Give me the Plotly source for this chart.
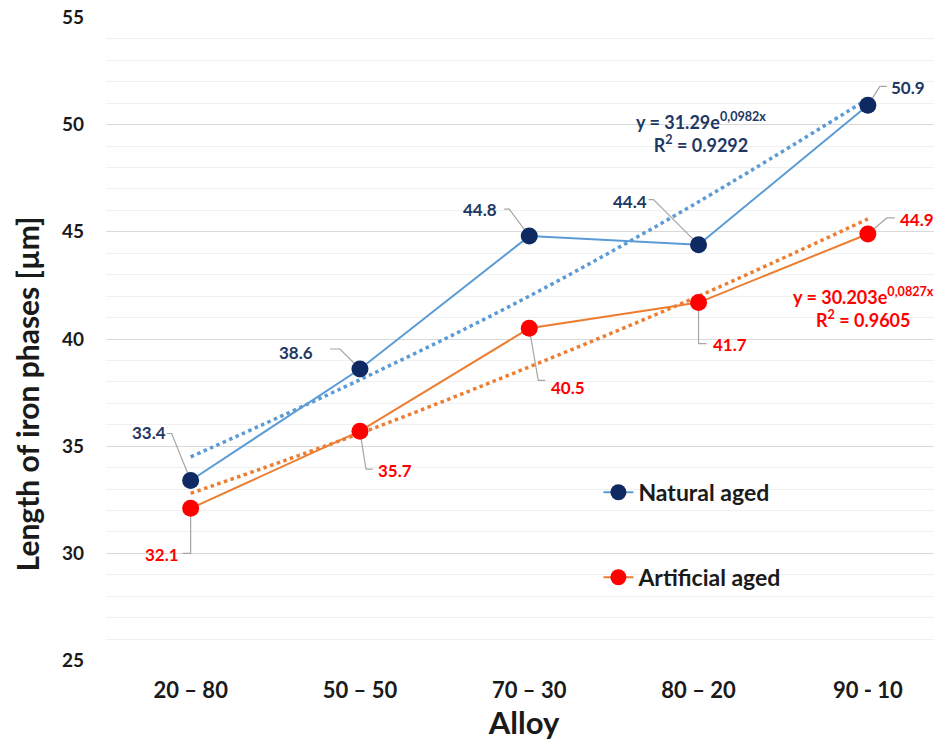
import plotly.graph_objects as go

# data
alloys = ["20 – 80", "50 – 50", "70 – 30", "80 – 20", "90 - 10"]
natural_aged = [33.4, 38.6, 44.8, 44.4, 50.9]
artificial_aged = [32.1, 35.7, 40.5, 41.7, 44.9]
# exponential trendlines (values of the dotted curves at each alloy)
trend_natural = [34.5, 38.1, 42.0, 46.4, 51.2]
trend_artificial = [32.8, 35.6, 38.7, 42.0, 45.6]
eq_natural = "y = 31.29e<sup>0,0982x</sup><br>R<sup>2</sup> = 0.9292"
eq_artificial = "y = 30.203e<sup>0,0827x</sup><br>R<sup>2</sup> = 0.9605"

FONT = "Lato"
TXT = "#1A1A1A"
NAVY = "#0F2A62"
NAVY_TXT = "#1F3864"
RED = "#FF0000"
BLUE_LINE = "#5B9BD5"
ORANGE_LINE = "#ED7D31"
LEADER = "#A6A6A6"

# label offsets in px (dx, dy up) and leader paths from the point
natural_lbl = [(-42, 48, "M0,0 L-19,47 L-24,47"),
               (-64, 17, "M0,0 L-20,20 L-30,20"),
               (-49, 27, "M0,0 L-20,27 L-25,27"),
               (-69, 43, "M0,0 L-45,45 L-50,45"),
               (40, 18, "M0,0 L12,19 L19,19")]
artificial_lbl = [(-29, -46, "M0,0 L0,-45 L-8,-45"),
                  (35, -39, "M0,0 L6,-38 L13,-38"),
                  (39, -59, "M0,0 L9,-52 L16,-52"),
                  (31, -42, "M0,0 L0,-41 L8,-41"),
                  (49, 14, "M0,0 L19,16 L27,16")]


def add_series(fig, name, values, trend, line_color, marker_color, legend):
    x = list(range(len(alloys)))
    fig.add_trace(go.Scatter(x=x, y=trend, mode="lines", line_shape="spline",
                             line=dict(color=line_color, width=3.5, dash="dot"),
                             showlegend=False, hoverinfo="skip"))
    fig.add_trace(go.Scatter(x=x, y=values, mode="lines+markers", name=name,
                             line=dict(color=line_color, width=2),
                             marker=dict(color=marker_color, size=17),
                             legend=legend))


def add_labels(fig, values, offsets, color):
    for i, (v, (dx, dy, path)) in enumerate(zip(values, offsets)):
        fig.add_shape(type="path", xref="x", yref="y",
                      xsizemode="pixel", ysizemode="pixel",
                      xanchor=i, yanchor=v, path=path,
                      line=dict(color=LEADER, width=1.2), layer="between")
        fig.add_annotation(x=i, y=v, text=f"{v:.1f}", showarrow=False,
                           xshift=dx, yshift=dy,
                           font=dict(family=FONT, size=17, color=color, weight="bold"))


fig = go.Figure()
add_series(fig, "Natural aged", natural_aged, trend_natural, BLUE_LINE, NAVY, "legend")
add_series(fig, "Artificial aged", artificial_aged, trend_artificial, ORANGE_LINE, RED, "legend2")
add_labels(fig, natural_aged, natural_lbl, NAVY_TXT)
add_labels(fig, artificial_aged, artificial_lbl, RED)

fig.add_annotation(xref="paper", yref="paper", x=0.712, y=0.821, text=eq_natural,
                   showarrow=False, align="center", xanchor="center", yanchor="middle",
                   font=dict(family=FONT, size=18, color=NAVY_TXT, weight="bold"))
fig.add_annotation(xref="paper", yref="paper", x=0.906, y=0.549, text=eq_artificial,
                   showarrow=False, align="center", xanchor="center", yanchor="middle",
                   font=dict(family=FONT, size=18, color=RED, weight="bold"))

# y axis title sits a bit below the axis middle in the reference
fig.add_annotation(xref="paper", yref="paper", x=0, xshift=-79, y=0.414,
                   xanchor="center", yanchor="middle",
                   text="Length of iron phases [µm]", textangle=-90, showarrow=False,
                   font=dict(family=FONT, size=30, color=TXT, weight="bold"))

legend_font = dict(family=FONT, size=23, color=TXT, weight="bold")
# the page body adds an 8px offset, so the figure is 8px smaller than the window
fig.update_layout(
    width=934, height=736,
    margin=dict(l=98, r=0, t=9, b=83),
    plot_bgcolor="white", paper_bgcolor="white",
    legend=dict(x=0.589, y=0.262, xanchor="left", yanchor="middle",
                font=legend_font, bgcolor="rgba(0,0,0,0)", itemwidth=30),
    legend2=dict(x=0.589, y=0.130, xanchor="left", yanchor="middle",
                 font=legend_font, bgcolor="rgba(0,0,0,0)", itemwidth=30),
    xaxis=dict(tickmode="array", tickvals=list(range(len(alloys))), ticktext=alloys,
               range=[-0.5, 4.438], showgrid=False, zeroline=False, showline=False,
               ticks="", ticklabelstandoff=14, automargin=False,
               tickfont=dict(family=FONT, size=22, color=TXT, weight="bold"),
               title=dict(text="Alloy", standoff=6,
                          font=dict(family=FONT, size=31, color=TXT, weight="bold"))),
    yaxis=dict(range=[24.98, 55.02], tickvals=[25, 30, 35, 40, 45, 50, 55],
               showgrid=True, gridcolor="#D9D9D9",
               gridwidth=1, zeroline=False, showline=False, ticks="",
               ticklabelstandoff=21, automargin=False, ticklabeloverflow="allow",
               minor=dict(dtick=1, tick0=25, showgrid=True, gridcolor="#F0F0F0", gridwidth=1),
               tickfont=dict(family=FONT, size=19, color=TXT, weight="bold")),
)

fig.write_html("out.html")
